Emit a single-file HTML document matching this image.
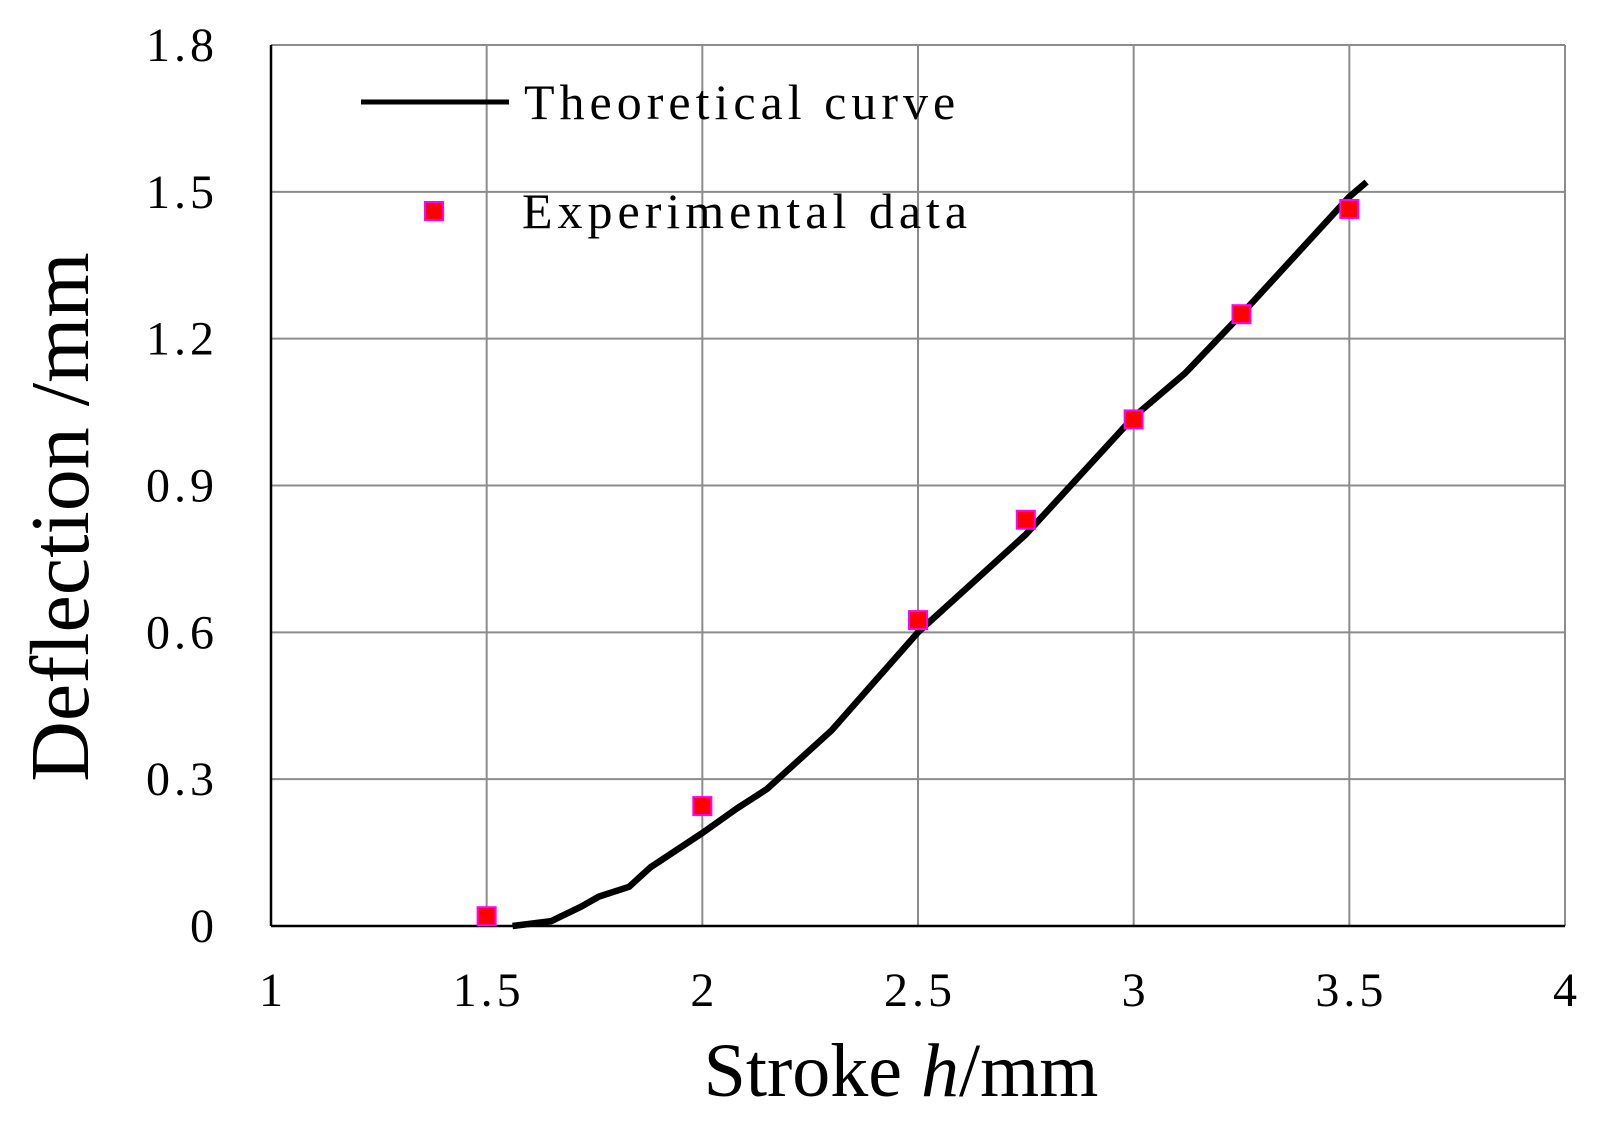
<!DOCTYPE html>
<html><head><meta charset="utf-8"><style>
html,body{margin:0;padding:0;background:#fff;}
svg{display:block;font-family:"Liberation Serif",serif;}
</style></head><body>
<svg id="chart" width="1597" height="1121">
<g id="grid"></g>
<g id="axes"></g>
<g id="marks"></g>
<g>
<line x1="361" y1="102" x2="509" y2="102" stroke="#000" stroke-width="5"/>
<text x="524" y="119" font-size="50" letter-spacing="5">Theoretical curve</text>
<rect x="425" y="202" width="18" height="18" fill="#f00" stroke="#f0f" stroke-width="2"/>
<text x="522" y="228" font-size="50" letter-spacing="5">Experimental data</text>
</g>
<text x="901" y="1096" font-size="76" text-anchor="middle">Stroke <tspan font-style="italic">h</tspan>/mm</text>
<text transform="translate(88,517) rotate(-90)" font-size="84" text-anchor="middle">Deflection /mm</text>
</svg>
<script>
const xTicks=[1,1.5,2,2.5,3,3.5,4];
const xTickLabels=["1","1.5","2","2.5","3","3.5","4"];
const yTicks=[0,0.3,0.6,0.9,1.2,1.5,1.8];
const yTickLabels=["0","0.3","0.6","0.9","1.2","1.5","1.8"];
const curveX=[1.56,1.65,1.72,1.76,1.83,1.88,2,2.08,2.15,2.3,2.4,2.5,2.75,3,3.12,3.25,3.5,3.54];
const curveY=[0,0.01,0.04,0.06,0.08,0.12,0.19,0.24,0.28,0.40,0.50,0.60,0.80,1.04,1.13,1.25,1.49,1.52];
const expX=[1.5,2,2.5,2.75,3,3.25,3.5];
const expY=[0.02,0.245,0.625,0.83,1.035,1.25,1.465];
const NS="http://www.w3.org/2000/svg";
const X0=271,X1=1565,Y0=926,Y1=45;
const sx=v=>X0+(v-1)/3*(X1-X0);
const sy=v=>Y0-(v/1.8)*(Y0-Y1);
function mk(tag,attrs,parent){const e=document.createElementNS(NS,tag);for(const k in attrs)e.setAttribute(k,attrs[k]);parent.appendChild(e);return e;}
const grid=document.getElementById('grid'),axes=document.getElementById('axes'),marks=document.getElementById('marks');
xTicks.forEach((t,i)=>{
 if(i>0){const l=mk('line',{x1:sx(t),x2:sx(t),y1:Y1,y2:Y0,stroke:'#8c8c8c','stroke-width':2},grid);
 
 }
 const tx=mk('text',{x:sx(t)+2,y:Y0+80,'font-size':48,'text-anchor':'middle','letter-spacing':4},axes);
 tx.textContent=xTickLabels[i];
 
 
});
yTicks.forEach((t,i)=>{
 if(i>0){const l=mk('line',{x1:X0,x2:X1,y1:sy(t),y2:sy(t),stroke:'#8c8c8c','stroke-width':2},grid);
 
 }
 const tx=mk('text',{x:218,y:sy(t)+16,'font-size':48,'text-anchor':'end','letter-spacing':4},axes);
 tx.textContent=yTickLabels[i];
 
 
});
const xa=mk('line',{x1:X0,x2:X1,y1:Y0,y2:Y0,stroke:'#000','stroke-width':2.5},axes);


const ya=mk('line',{x1:X0,x2:X0,y1:Y1,y2:Y0,stroke:'#000','stroke-width':2.5},axes);


const pts=curveX.map((x,i)=>sx(x)+','+sy(curveY[i])).join(' ');
const pl=mk('polyline',{points:pts,fill:'none',stroke:'#000','stroke-width':6.5,'stroke-linejoin':'round'},marks);


expX.forEach((x,i)=>{
 const r=mk('rect',{x:sx(x)-9,y:sy(expY[i])-9,width:18,height:18,fill:'#f00',stroke:'#f0f','stroke-width':2},marks);
 
 
});
</script>
</body></html>
